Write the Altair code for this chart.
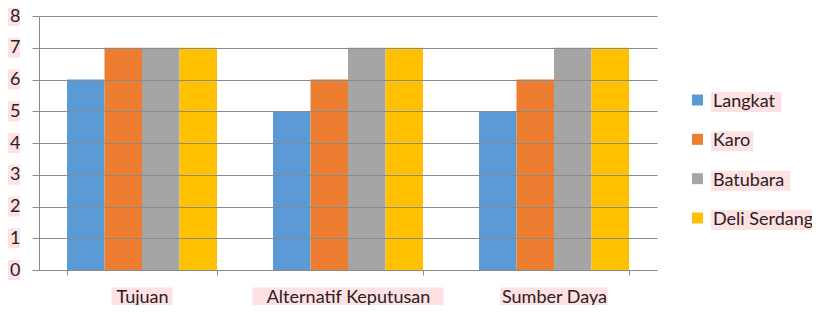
import altair as alt
import pandas as pd

categories = ["Tujuan", "Alternatif Keputusan", "Sumber Daya"]
series = ["Langkat", "Karo", "Batubara", "Deli Serdang"]
values = {
    "Langkat": [6, 5, 5],
    "Karo": [7, 6, 6],
    "Batubara": [7, 7, 7],
    "Deli Serdang": [7, 7, 7],
}
colors = ["#5B9BD5", "#ED7D31", "#A5A5A5", "#FFC000"]
y_ticks = [0, 1, 2, 3, 4, 5, 6, 7, 8]

FONT = "Lato"
FS = 18
TXT = "#2b2020"
HL = "#fde1e3"
GRID = "#8a8a8a"


def hl_centered(label):
    w = 9.3 * len(label) + 5
    return f"M{-w/2:.1f},-10H{w/2:.1f}V10H{-w/2:.1f}Z"


def hl_left(label):
    w = 9.3 * len(label) + 5
    return f"M0,-10H{w:.1f}V10H0Z"


rows = []
for s in series:
    for c, v in zip(categories, values[s]):
        rows.append({"Kategori": c, "Seri": s, "Nilai": v})
df = pd.DataFrame(rows)

df_xhl = pd.DataFrame({"Kategori": categories,
                       "shape": [hl_centered(c) for c in categories]})
df_yhl = pd.DataFrame({"tick": y_ticks})
df_leg = pd.DataFrame({"Seri": series,
                       "shape": [hl_left(s) for s in series]})

x_scale = alt.Scale(type="band", domain=categories,
                    paddingInner=0.272, paddingOuter=0.136)
x_axis = alt.Axis(labelAngle=0, tickBand="extent", tickSize=5,
                  labelPadding=13, domainColor=GRID, tickColor=GRID,
                  labelFontSize=FS, labelFont=FONT, labelColor=TXT,
                  zindex=1, labelAlign="center", labelBaseline="top")

bars = alt.Chart(df).mark_bar().encode(
    x=alt.X("Kategori:N", sort=categories, title=None, scale=x_scale,
            axis=x_axis),
    xOffset=alt.XOffset("Seri:N", sort=series),
    y=alt.Y("Nilai:Q", title=None,
            scale=alt.Scale(domain=[0, 8], nice=False),
            axis=alt.Axis(values=y_ticks, tickSize=7, labelPadding=12,
                          grid=True, gridColor=GRID,
                          domainColor=GRID, tickColor=GRID,
                          labelFontSize=FS, labelFont=FONT, labelColor=TXT,
                          zindex=1)),
    color=alt.Color("Seri:N", sort=series,
                    scale=alt.Scale(domain=series, range=colors),
                    legend=None),
)

x_hl = alt.Chart(df_xhl).mark_point(filled=True, size=4, color=HL,
                                    opacity=1).encode(
    x=alt.X("Kategori:N", sort=categories, title=None, scale=x_scale,
            axis=x_axis),
    y=alt.value(281.5),
    shape=alt.Shape("shape:N", scale=None),
)

y_hl = alt.Chart(df_yhl).mark_point(filled=True, size=4, color=HL,
                                    opacity=1,
                                    shape="M-6,-10H6V10H-6Z").encode(
    x=alt.value(-25),
    y=alt.Y("tick:Q", scale=alt.Scale(domain=[0, 8], nice=False), axis=None),
)

leg_y = alt.Y("Seri:N", sort=series,
              scale=alt.Scale(type="point", range=[86, 204], padding=0),
              axis=None)

leg_hl = alt.Chart(df_leg).mark_point(filled=True, size=4, color=HL,
                                      opacity=1).encode(
    x=alt.value(672), y=leg_y,
    shape=alt.Shape("shape:N", scale=None),
)
leg_sq = alt.Chart(df_leg).mark_square(size=121, opacity=1, yOffset=-2).encode(
    x=alt.value(658.5), y=leg_y,
    color=alt.Color("Seri:N", sort=series,
                    scale=alt.Scale(domain=series, range=colors),
                    legend=None),
)
leg_txt = alt.Chart(df_leg).mark_text(align="left", baseline="middle",
                                      font=FONT, fontSize=FS,
                                      color=TXT).encode(
    x=alt.value(674), y=leg_y, text="Seri:N",
)
legend = alt.layer(leg_hl, leg_sq, leg_txt)

chart = alt.layer(x_hl, y_hl, bars, legend).resolve_scale(
    y="independent", color="shared"
).properties(
    width=618, height=254,
    autosize=alt.AutoSizeParams(type="none"),
    padding={"left": 31, "top": 8, "right": 155, "bottom": 35},
).configure_view(stroke=None).configure_axis(domainWidth=1, gridWidth=1)

chart.save("out.html", embed_options={"renderer": "svg", "actions": False})
